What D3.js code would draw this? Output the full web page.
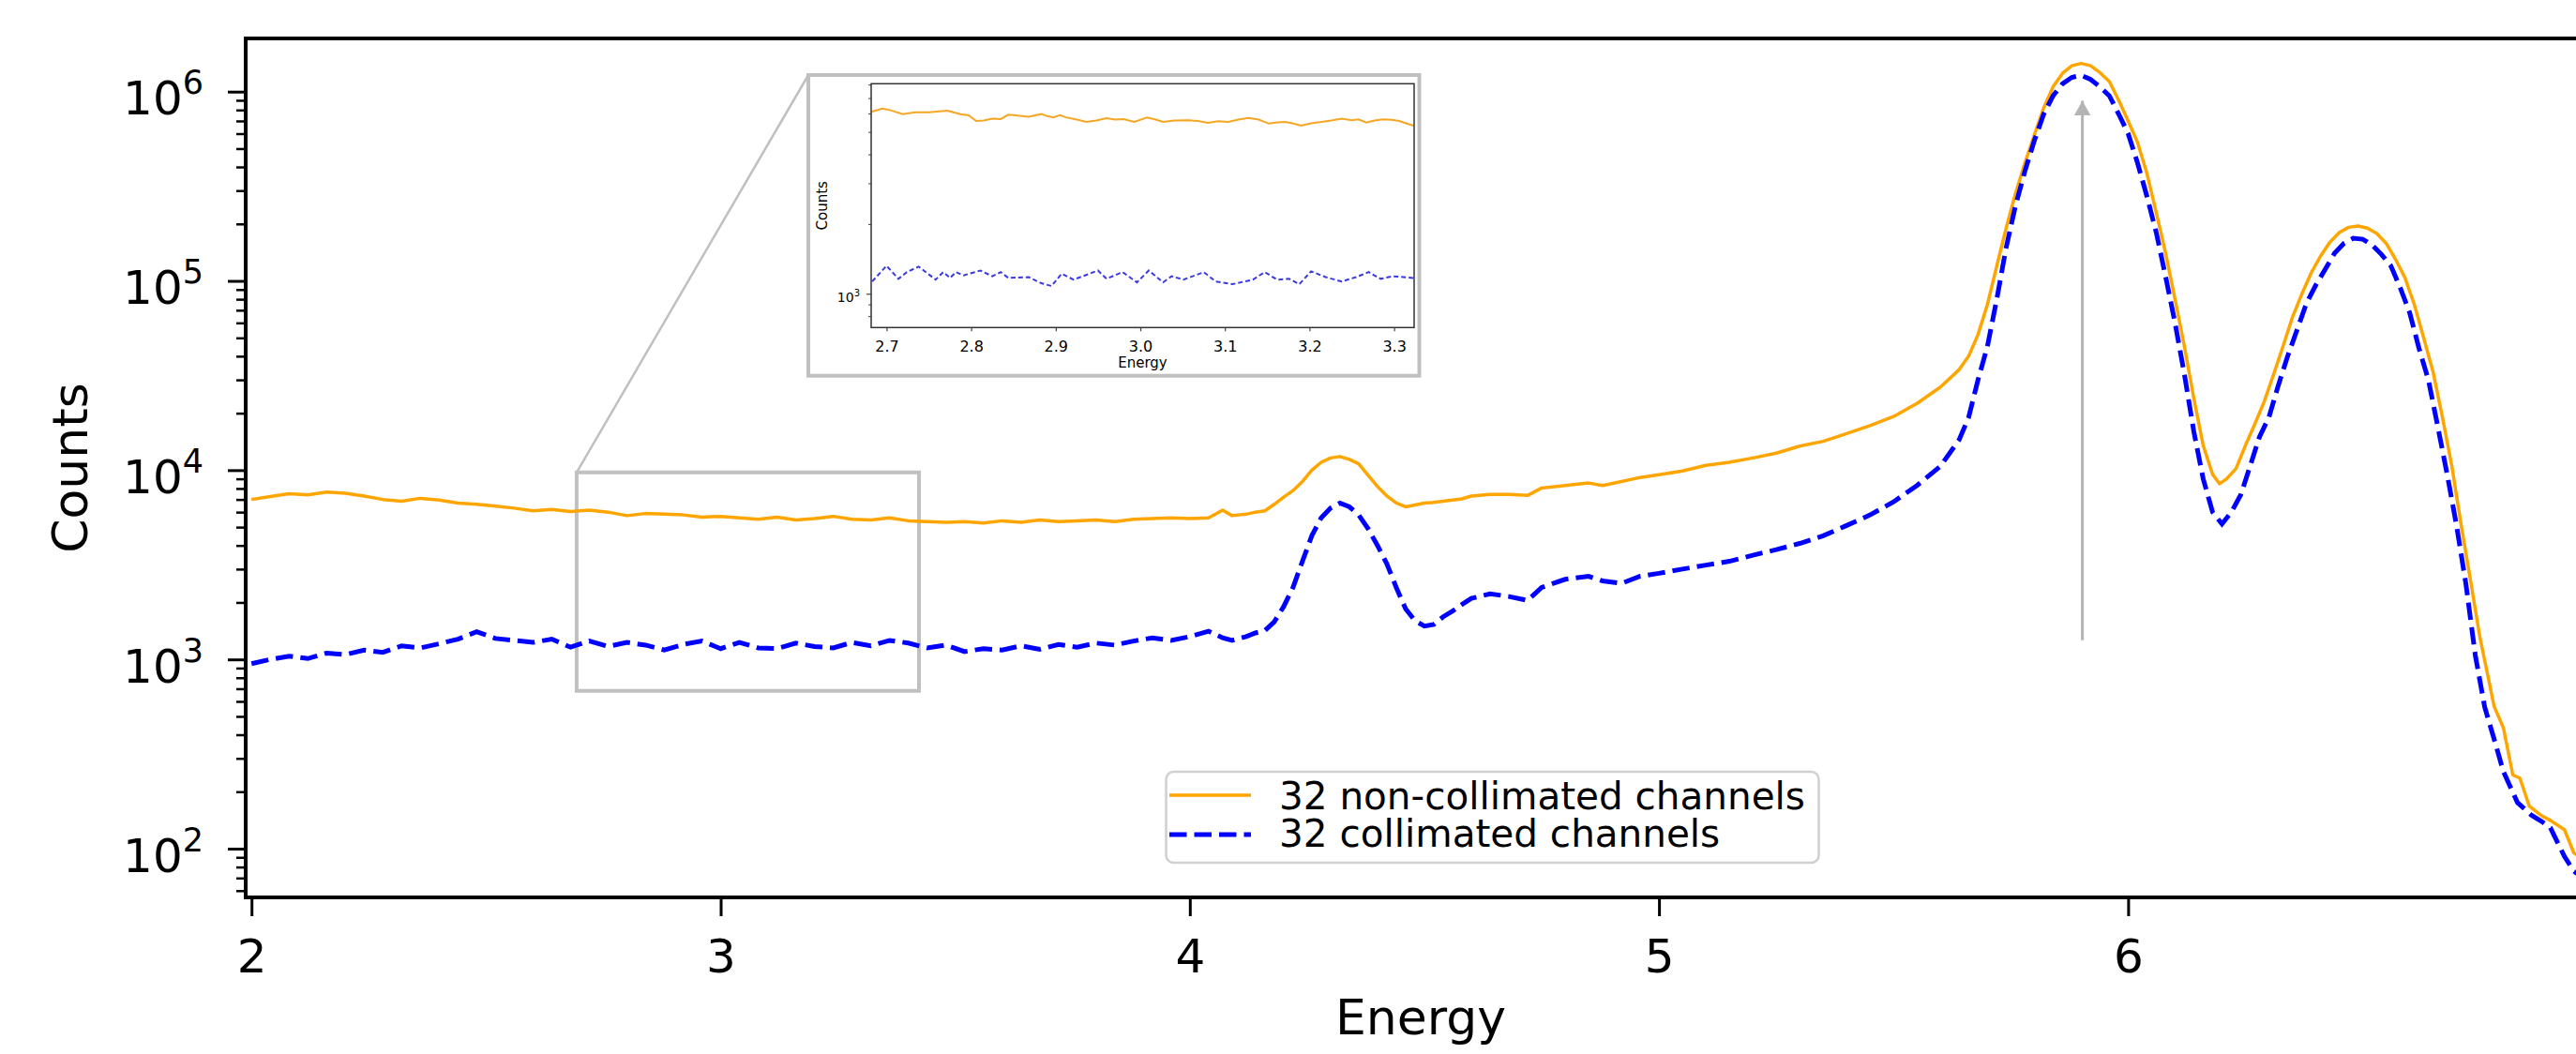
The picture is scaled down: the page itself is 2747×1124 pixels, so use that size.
<!DOCTYPE html>
<html><head><meta charset="utf-8">
<script src="https://cdn.jsdelivr.net/npm/d3@7"></script>
<style>html,body{margin:0;padding:0;background:#fff;overflow:hidden}svg{display:block}text{font-family:"DejaVu Sans",sans-serif;fill:#000}</style>
</head><body><svg id="c" width="2747" height="1124"></svg>
<script>
// ---------------- data ----------------
const seriesLabels = ["32 non-collimated channels", "32 collimated channels"];
const xTickValues = [2, 3, 4, 5, 6];
const yTickExponents = [2, 3, 4, 5, 6];
const minorMultipliers = [2, 3, 4, 5, 6, 7, 8, 9];
const insetXTickValues = [2.7, 2.8, 2.9, 3.0, 3.1, 3.2, 3.3];
const insetYTickExponents = [3];

const nonCollimated = [
[2.00,7000],[2.04,7250],[2.08,7500],[2.12,7400],[2.16,7650],[2.20,7550],[2.24,7300],[2.28,7000],
[2.32,6850],[2.36,7100],[2.40,6950],[2.44,6700],[2.48,6600],[2.52,6450],[2.56,6300],[2.60,6100],
[2.64,6200],[2.68,6050],[2.72,6150],[2.76,6000],[2.80,5750],[2.84,5900],[2.88,5850],[2.92,5800],
[2.96,5650],[3.00,5700],[3.04,5600],[3.08,5500],[3.12,5650],[3.16,5450],[3.20,5550],[3.24,5700],
[3.28,5500],[3.32,5450],[3.36,5600],[3.40,5400],[3.44,5350],[3.48,5300],[3.52,5350],[3.56,5250],
[3.60,5400],[3.64,5300],[3.68,5450],[3.72,5350],[3.76,5400],[3.80,5450],[3.84,5350],[3.88,5500],
[3.92,5550],[3.96,5600],[4.00,5550],[4.04,5600],[4.07,6150],[4.09,5750],[4.12,5850],[4.14,6000],
[4.16,6100],[4.18,6600],[4.20,7200],[4.22,7800],[4.24,8700],[4.26,10000],[4.28,11000],[4.30,11600],
[4.32,11800],[4.34,11400],[4.36,10800],[4.38,9400],[4.40,8200],[4.42,7300],[4.44,6700],[4.46,6400],
[4.48,6550],[4.50,6700],[4.52,6750],[4.54,6850],[4.56,6950],[4.58,7050],[4.60,7300],[4.64,7450],
[4.68,7450],[4.72,7350],[4.75,8050],[4.80,8300],[4.85,8550],[4.88,8300],[4.92,8700],[4.96,9150],
[5.00,9450],[5.05,9900],[5.10,10600],[5.15,11000],[5.20,11600],[5.25,12300],[5.30,13400],[5.35,14200],
[5.40,15600],[5.45,17200],[5.50,19200],[5.55,22500],[5.60,27500],[5.64,34000],[5.66,40000],[5.68,52000],
[5.70,75000],[5.72,120000],[5.74,190000],[5.76,290000],[5.78,420000],[5.80,590000],[5.82,820000],
[5.84,1060000],[5.86,1250000],[5.88,1370000],[5.90,1410000],[5.92,1370000],[5.94,1260000],[5.96,1130000],
[5.98,900000],[6.00,700000],[6.02,540000],[6.04,370000],[6.06,230000],[6.08,140000],[6.10,80000],
[6.12,45000],[6.14,24000],[6.16,13500],[6.18,9500],[6.195,8470],[6.21,9000],[6.23,10200],[6.25,13500],
[6.27,17500],[6.29,23000],[6.31,32000],[6.33,45000],[6.35,64000],[6.37,85000],[6.39,110000],[6.41,135000],
[6.43,160000],[6.45,180000],[6.47,192000],[6.49,195000],[6.51,190000],[6.53,178000],[6.55,158000],
[6.57,130000],[6.59,104000],[6.61,75000],[6.63,50000],[6.65,33000],[6.67,19000],[6.69,10500],[6.71,5100],
[6.73,2600],[6.75,1300],[6.77,750],[6.78,566],[6.80,434],[6.82,245],[6.835,236],[6.855,168],[6.88,150],
[6.90,141],[6.93,126],[6.95,95],[6.97,88]
];

const collimated = [
[2.00,950],[2.04,1000],[2.08,1040],[2.12,1010],[2.16,1080],[2.20,1060],[2.24,1120],[2.28,1090],
[2.32,1180],[2.36,1150],[2.40,1210],[2.44,1280],[2.48,1400],[2.52,1290],[2.56,1260],[2.60,1230],
[2.64,1280],[2.68,1160],[2.72,1250],[2.76,1170],[2.80,1230],[2.84,1190],[2.88,1120],[2.92,1200],
[2.96,1250],[3.00,1140],[3.04,1230],[3.08,1150],[3.12,1140],[3.16,1220],[3.20,1170],[3.24,1150],
[3.28,1230],[3.32,1180],[3.36,1260],[3.40,1220],[3.44,1150],[3.48,1190],[3.52,1100],[3.56,1140],
[3.60,1120],[3.64,1180],[3.68,1130],[3.72,1200],[3.76,1160],[3.80,1220],[3.84,1190],[3.88,1250],
[3.92,1300],[3.96,1260],[4.00,1320],[4.04,1410],[4.07,1300],[4.09,1260],[4.12,1320],[4.14,1380],
[4.16,1420],[4.18,1580],[4.20,1900],[4.22,2400],[4.24,3300],[4.26,4500],[4.28,5600],[4.30,6300],
[4.32,6700],[4.34,6400],[4.36,5800],[4.38,4900],[4.40,4000],[4.42,3200],[4.44,2400],[4.46,1850],
[4.48,1600],[4.50,1500],[4.52,1530],[4.54,1680],[4.56,1800],[4.58,1950],[4.60,2100],[4.64,2220],
[4.68,2150],[4.72,2050],[4.75,2400],[4.80,2650],[4.85,2750],[4.88,2600],[4.92,2520],[4.96,2750],
[5.00,2850],[5.05,3000],[5.10,3150],[5.15,3300],[5.20,3550],[5.25,3800],[5.30,4100],[5.35,4500],
[5.40,5100],[5.45,5800],[5.50,6800],[5.55,8300],[5.60,10500],[5.64,14500],[5.66,19000],[5.68,30000],
[5.70,45000],[5.72,80000],[5.74,150000],[5.76,250000],[5.78,380000],[5.80,550000],[5.82,760000],
[5.84,950000],[5.86,1100000],[5.88,1190000],[5.90,1220000],[5.92,1160000],[5.94,1060000],[5.96,950000],
[5.98,760000],[6.00,600000],[6.02,420000],[6.04,280000],[6.06,180000],[6.08,105000],[6.10,60000],
[6.12,32000],[6.14,16000],[6.16,9000],[6.18,6000],[6.20,5200],[6.22,6000],[6.24,7400],[6.26,10500],
[6.28,15000],[6.30,19000],[6.32,28000],[6.34,40000],[6.36,55000],[6.38,76000],[6.40,95000],[6.42,115000],
[6.44,140000],[6.46,158000],[6.48,168000],[6.50,166000],[6.52,155000],[6.54,138000],[6.56,120000],
[6.58,92000],[6.60,68000],[6.62,44000],[6.64,30000],[6.66,17000],[6.68,9500],[6.70,5100],[6.72,2500],
[6.74,1050],[6.76,560],[6.78,380],[6.80,255],[6.83,175],[6.86,150],[6.88,140],[6.90,129],[6.93,91],
[6.95,76],[6.97,70]
];

const insetNonCollimated = [
[2.682,6100],[2.695,6300],[2.705,6200],[2.719,5970],[2.734,6070],[2.75,6080],[2.772,6170],[2.787,5970],
[2.797,5900],[2.806,5570],[2.815,5600],[2.825,5700],[2.835,5680],[2.844,5930],[2.855,5880],[2.868,5820],
[2.883,5970],[2.890,5850],[2.897,5780],[2.905,5900],[2.912,5780],[2.925,5650],[2.936,5520],[2.948,5600],
[2.960,5730],[2.970,5650],[2.980,5680],[2.993,5520],[3.008,5770],[3.018,5650],[3.027,5520],[3.040,5600],
[3.056,5610],[3.068,5580],[3.080,5470],[3.092,5560],[3.104,5520],[3.116,5650],[3.128,5750],[3.140,5650],
[3.152,5430],[3.162,5500],[3.171,5520],[3.180,5450],[3.190,5320],[3.202,5450],[3.214,5520],[3.226,5600],
[3.238,5700],[3.250,5620],[3.258,5660],[3.267,5490],[3.277,5600],[3.287,5660],[3.297,5640],[3.306,5570],
[3.315,5430],[3.323,5320]
];

const insetCollimated = [
[2.683,1130],[2.700,1320],[2.714,1160],[2.724,1240],[2.738,1310],[2.758,1150],[2.767,1240],[2.775,1170],
[2.782,1240],[2.791,1200],[2.811,1260],[2.825,1190],[2.835,1240],[2.844,1170],[2.868,1180],[2.883,1110],
[2.895,1080],[2.907,1220],[2.921,1150],[2.950,1260],[2.960,1160],[2.979,1240],[2.996,1120],[3.010,1260],
[3.027,1120],[3.037,1190],[3.051,1150],[3.075,1240],[3.089,1130],[3.109,1100],[3.133,1150],[3.147,1240],
[3.162,1150],[3.176,1160],[3.188,1100],[3.202,1250],[3.219,1180],[3.238,1130],[3.255,1180],[3.270,1240],
[3.284,1160],[3.299,1190],[3.323,1170]
];

const zoomRegion = {e0: 2.693, e1: 3.4227, c0: 682, c1: 9730};
const peakArrow = {e: 5.9025, c0: 1262, c1: 1.05e6};

// ---------------- layout ----------------
const W = 2747, H = 1124;
const M = {l: 262, t: 41, r: 2768, b: 957};
const svg = d3.select("#c");
svg.append("rect").attr("width", W).attr("height", H).attr("fill", "#fff");

const x = d3.scaleLinear().domain([1.9876, 6.9966]).range([M.l, M.r]);
const y = d3.scaleLog().domain([Math.pow(10, 1.7425), Math.pow(10, 6.281)]).range([M.b, M.t]);

const defs = svg.append("defs");
defs.append("clipPath").attr("id", "clip").append("rect")
  .attr("x", M.l).attr("y", M.t).attr("width", M.r - M.l).attr("height", M.b - M.t);
defs.append("marker").attr("id", "ah").attr("viewBox", "0 0 18 16").attr("refX", 9).attr("refY", 0)
  .attr("markerUnits", "userSpaceOnUse").attr("markerWidth", 18).attr("markerHeight", 16)
  .attr("orient", "0")
  .append("path").attr("d", "M0,16 L9,0 L18,16 Z").attr("fill", "#b4b4b4");

const plot = svg.append("g").attr("clip-path", "url(#clip)");
const line = d3.line().x(d => x(d[0])).y(d => y(d[1]));

// zoom indicator rectangle
plot.append("rect")
  .attr("x", x(zoomRegion.e0)).attr("y", y(zoomRegion.c1))
  .attr("width", x(zoomRegion.e1) - x(zoomRegion.e0))
  .attr("height", y(zoomRegion.c0) - y(zoomRegion.c1))
  .attr("fill", "none").attr("stroke", "#c0c0c0").attr("stroke-width", 4);

plot.append("path").datum(nonCollimated).attr("d", line)
  .attr("fill", "none").attr("stroke", "#ffa500").attr("stroke-width", 3.5).attr("stroke-linejoin", "round");
plot.append("path").datum(collimated).attr("d", line)
  .attr("fill", "none").attr("stroke", "#0000ff").attr("stroke-width", 5).attr("stroke-dasharray", "18.5,8");

// arrow
plot.append("line")
  .attr("x1", x(peakArrow.e)).attr("x2", x(peakArrow.e))
  .attr("y1", y(peakArrow.c0)).attr("y2", y(peakArrow.c1) + 14)
  .attr("stroke", "#b4b4b4").attr("stroke-width", 3).attr("marker-end", "url(#ah)");

// ---------------- axes ----------------
const yMajor = yTickExponents.map(e => Math.pow(10, e));
const [ylo, yhi] = y.domain();
const yMinor = [];
for (let d = 1; d <= 6; d++) minorMultipliers.forEach(k => { const v = k * Math.pow(10, d); if (v >= ylo && v <= yhi) yMinor.push(v); });

const gyMinor = svg.append("g").attr("transform", `translate(${M.l},0)`)
  .call(d3.axisLeft(y).tickValues(yMinor).tickSize(10).tickSizeOuter(0).tickFormat(() => ""));
gyMinor.select(".domain").remove();
gyMinor.selectAll("line").attr("stroke", "#000").attr("stroke-width", 2.5);

const gy = svg.append("g").attr("transform", `translate(${M.l},0)`)
  .call(d3.axisLeft(y).tickValues(yMajor).tickSize(19).tickSizeOuter(0).tickFormat(() => ""));
gy.select(".domain").remove();
gy.selectAll("line").attr("stroke", "#000").attr("stroke-width", 3);
gy.selectAll(".tick text").each(function(d) {
  const t = d3.select(this);
  t.attr("x", -45).attr("y", 24).attr("dy", null).attr("text-anchor", "end")
   .attr("font-size", 50).attr("font-family", "DejaVu Sans").attr("fill", "#000");
  t.append("tspan").text("10");
  t.append("tspan").attr("dy", -22).attr("font-size", 35).text(Math.round(Math.log10(d)));
});

const gx = svg.append("g").attr("transform", `translate(0,${M.b})`)
  .call(d3.axisBottom(x).tickValues(xTickValues).tickSize(20).tickSizeOuter(0).tickFormat(d3.format("d")));
gx.select(".domain").remove();
gx.selectAll("line").attr("stroke", "#000").attr("stroke-width", 3);
gx.selectAll("text").attr("y", 80).attr("dy", null).attr("font-size", 50)
  .attr("font-family", "DejaVu Sans").attr("fill", "#000");

// spines
svg.append("rect").attr("x", M.l).attr("y", M.t).attr("width", M.r - M.l).attr("height", M.b - M.t)
  .attr("fill", "none").attr("stroke", "#000").attr("stroke-width", 4);

svg.append("text").attr("x", (M.l + M.r) / 2).attr("y", 1103).attr("text-anchor", "middle")
  .attr("font-size", 52).text("Energy");
svg.append("text").attr("transform", `translate(93,${(M.t + M.b) / 2}) rotate(-90)`)
  .attr("text-anchor", "middle").attr("font-size", 52).text("Counts");

// ---------------- legend ----------------
const lg = svg.append("g");
lg.append("rect").attr("x", 1243.5).attr("y", 823).attr("width", 696).attr("height", 97).attr("rx", 8)
  .attr("fill", "#fff").attr("fill-opacity", 0.85).attr("stroke", "#d0d0d0").attr("stroke-width", 2.5);
const legendStyles = [
  {stroke: "#ffa500", w: 3.5, dash: null, ly: 848, ty: 863},
  {stroke: "#0000ff", w: 5, dash: "18.5,8", ly: 890, ty: 903}
];
seriesLabels.forEach((lab, i) => {
  const s = legendStyles[i];
  lg.append("line").attr("x1", 1247).attr("x2", 1334).attr("y1", s.ly).attr("y2", s.ly)
    .attr("stroke", s.stroke).attr("stroke-width", s.w).attr("stroke-dasharray", s.dash);
  lg.append("text").attr("x", 1364).attr("y", s.ty).attr("font-size", 40.5).text(lab);
});

// ---------------- connector + inset ----------------
svg.append("line").attr("x1", x(zoomRegion.e0)).attr("y1", y(zoomRegion.c1)).attr("x2", 862).attr("y2", 80)
  .attr("stroke", "#c0c0c0").attr("stroke-width", 2.5);

const F = {x: 862, y: 80, w: 651.5, h: 320.7};
svg.append("rect").attr("x", F.x).attr("y", F.y).attr("width", F.w).attr("height", F.h)
  .attr("fill", "#fff").attr("stroke", "#c0c0c0").attr("stroke-width", 4);

const IA = {l: 929, t: 89.3, r: 1508, b: 349.3};
const ix = d3.scaleLinear().domain([2.6818, 3.3237]).range([IA.l, IA.r]);
const iy = d3.scaleLog().domain([Math.pow(10, 2.854), Math.pow(10, 3.907)]).range([IA.b, IA.t]);
defs.append("clipPath").attr("id", "iclip").append("rect")
  .attr("x", IA.l).attr("y", IA.t).attr("width", IA.r - IA.l).attr("height", IA.b - IA.t);
const ig = svg.append("g");
const iplot = ig.append("g").attr("clip-path", "url(#iclip)");
const iline = d3.line().x(d => ix(d[0])).y(d => iy(d[1]));
iplot.append("path").datum(insetNonCollimated).attr("d", iline)
  .attr("fill", "none").attr("stroke", "#f5a623").attr("stroke-width", 2);
iplot.append("path").datum(insetCollimated).attr("d", iline)
  .attr("fill", "none").attr("stroke", "#3a3ae0").attr("stroke-width", 2).attr("stroke-dasharray", "5,3");

const [iylo, iyhi] = iy.domain();
const iyMinor = [];
for (let d = 2; d <= 3; d++) minorMultipliers.forEach(k => { const v = k * Math.pow(10, d); if (v >= iylo && v <= iyhi) iyMinor.push(v); });
const igyMinor = ig.append("g").attr("transform", `translate(${IA.l},0)`)
  .call(d3.axisLeft(iy).tickValues(iyMinor).tickSize(3).tickSizeOuter(0).tickFormat(() => ""));
igyMinor.select(".domain").remove();
igyMinor.selectAll("line").attr("stroke", "#444").attr("stroke-width", 1);
const igy = ig.append("g").attr("transform", `translate(${IA.l},0)`)
  .call(d3.axisLeft(iy).tickValues(insetYTickExponents.map(e => Math.pow(10, e))).tickSize(5).tickSizeOuter(0).tickFormat(() => ""));
igy.select(".domain").remove();
igy.selectAll("line").attr("stroke", "#444").attr("stroke-width", 1.2);
igy.selectAll(".tick text").each(function(d) {
  const t = d3.select(this);
  t.attr("x", -12).attr("y", 8).attr("dy", null).attr("text-anchor", "end")
   .attr("font-size", 14).attr("font-family", "DejaVu Sans").attr("fill", "#333");
  t.append("tspan").text("10");
  t.append("tspan").attr("dy", -6).attr("font-size", 10).text(Math.round(Math.log10(d)));
});
const igx = ig.append("g").attr("transform", `translate(0,${IA.b})`)
  .call(d3.axisBottom(ix).tickValues(insetXTickValues).tickSize(4).tickSizeOuter(0).tickFormat(d3.format(".1f")));
igx.select(".domain").remove();
igx.selectAll("line").attr("stroke", "#444").attr("stroke-width", 1.2);
igx.selectAll("text").attr("y", 25.5).attr("dy", null).attr("font-size", 16)
  .attr("font-family", "DejaVu Sans").attr("fill", "#333");
ig.append("rect").attr("x", IA.l).attr("y", IA.t).attr("width", IA.r - IA.l).attr("height", IA.b - IA.t)
  .attr("fill", "none").attr("stroke", "#333").attr("stroke-width", 1.5);
ig.append("text").attr("x", (IA.l + IA.r) / 2).attr("y", 392).attr("text-anchor", "middle")
  .attr("font-size", 15).attr("fill", "#333").text("Energy");
ig.append("text").attr("transform", `translate(882,${(IA.t + IA.b) / 2}) rotate(-90)`)
  .attr("text-anchor", "middle").attr("font-size", 15).attr("fill", "#333").text("Counts");
</script></body></html>
